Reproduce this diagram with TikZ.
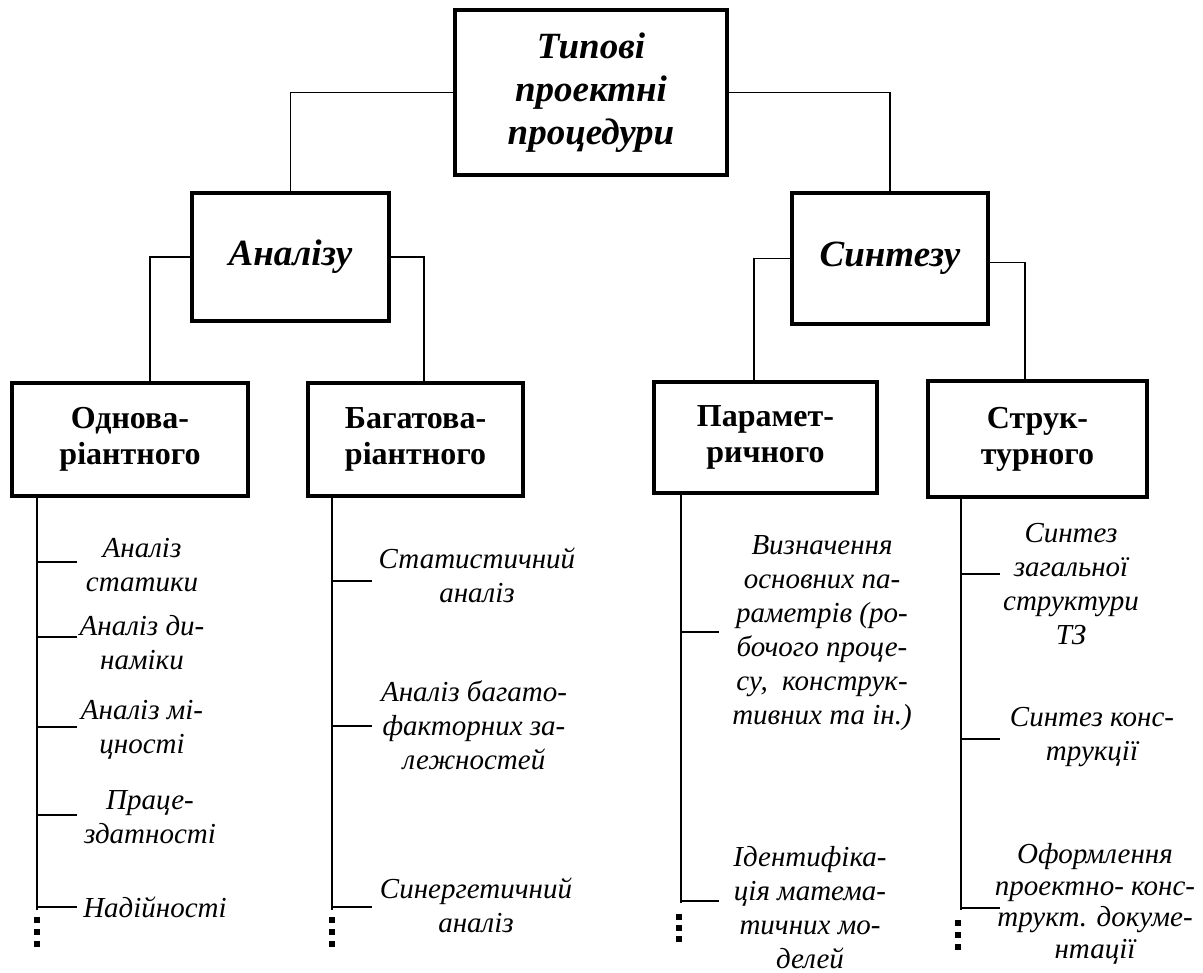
\documentclass[tikz,border=0pt]{standalone}
\usepackage{fontspec}
\setmainfont{Liberation Serif}
\begin{document}
\begin{tikzpicture}[x=1pt,y=-1pt,
  box/.style={draw, line width=3.5pt, inner sep=0pt, align=center},
  topfont/.style={font=\fontsize{37}{43}\selectfont\bfseries\itshape},
  midfont/.style={font=\fontsize{37}{42}\selectfont\bfseries\itshape},
  lowfont/.style={font=\fontsize{32}{36}\selectfont\bfseries},
  conn/.style={line width=1.3pt},
  stem/.style={line width=2pt},
  tickline/.style={line width=2pt},
  item/.style={align=center, inner sep=0pt, font=\fontsize{29}{34}\selectfont\itshape},
  dotsq/.style={fill=black, minimum size=5.5pt, inner sep=0pt, draw=none}
]
\useasboundingbox (0,0) rectangle (1203,973);

% boxes
\node[box, topfont, minimum width=272pt, minimum height=165pt] (top) at (591,92.5) {Типові\\проектні\\процедури};
\node[box, midfont, minimum width=197pt, minimum height=128pt] (an) at (290.5,257) {Аналізу};
\node[box, midfont, minimum width=196pt, minimum height=131pt] (syn) at (890,258.5) {Синтезу};
\node[box, lowfont, minimum width=236pt, minimum height=113pt] (odn) at (130,439.5) {Однова-\\ріантного};
\node[box, lowfont, minimum width=215pt, minimum height=113pt] (bag) at (415.5,439.5) {Багатова-\\ріантного};
\node[box, lowfont, minimum width=223pt, minimum height=111pt] (par) at (765.5,437.5) {Парамет-\\ричного};
\node[box, lowfont, minimum width=219pt, minimum height=116pt] (str) at (1037.5,439) {Струк-\\турного};

% connectors between levels
\draw[conn] (top.west) -| (an.north);
\draw[conn] (top.east) -| (syn.north);
\draw[conn] (an.west) -| ([xshift=20pt]odn.north);
\draw[conn] (an.east) -| ([xshift=8.5pt]bag.north);
\draw[conn] (syn.west) -| ([xshift=-11.5pt]par.north);
\draw[conn] ([yshift=-4pt]syn.east) -| ([xshift=-12.5pt]str.north);

% stems
\coordinate (s1) at (37,910);
\coordinate (s2) at (332,910);
\coordinate (s3) at (681,903);
\coordinate (s4) at (961,910);
\draw[stem] ([xshift=-93pt]odn.south) -- (s1);
\draw[stem] ([xshift=-83.5pt]bag.south) -- (s2);
\draw[stem] ([xshift=-84.5pt]par.south) -- (s3);
\draw[stem] ([xshift=-76.5pt]str.south) -- (s4);

% ticks
\foreach \y [count=\i] in {562,637,727,815,907}{
  \coordinate (ta\i) at (37,\y);
  \draw[tickline] (ta\i) -- ++(40,0);
}
\foreach \y [count=\i] in {581,726,907}{
  \coordinate (tb\i) at (332,\y);
  \draw[tickline] (tb\i) -- ++(40,0);
}
\foreach \y [count=\i] in {632,901}{
  \coordinate (tc\i) at (681,\y);
  \draw[tickline] (tc\i) -- ++(38,0);
}
\foreach \y [count=\i] in {574,739,908}{
  \coordinate (td\i) at (961,\y);
  \draw[tickline] (td\i) -- ++(39,0);
}

% dots
\foreach \y [count=\i] in {920,932,944}{
  \node[dotsq] (da\i) at (37,\y) {};
  \node[dotsq] (db\i) at (332,\y) {};
  \node[dotsq] (dd\i) at (958,\y+3) {};
}
\foreach \y [count=\i] in {917,928,939}{
  \node[dotsq] (dc\i) at (679,\y) {};
}

% items column 1
\node[item] (a1) at (142,565) {Аналіз\\статики};
\node[item] (a2) at (142,643) {Аналіз ди-\\наміки};
\node[item] (a3) at (142,730) {Аналіз мі-\\цності};
\node[item] (a4) at (150,817) {Праце-\\здатності};
\node[item] (a5) at (155,907) {Надійності};
% column 2
\node[item] (b1) at (477,575) {Статистичний\\аналіз};
\node[item] (b2) at (474,725) {Аналіз багато-\\факторних за-\\лежностей};
\node[item] (b3) at (476,905) {Синергетичний\\аналіз};
% column 3
\node[item] (c1) at (822,633) {Визначення\\основних па-\\раметрів (ро-\\бочого проце-\\су,\ \ конструк-\\тивних та ін.)};
\node[item] (c2) at (810,908) {Ідентифіка-\\ція матема-\\тичних мо-\\делей};
% column 4
\node[item] (d1) at (1071,584) {Синтез\\загальної\\структури\\ТЗ};
\node[item] (d2) at (1092,737) {Синтез конс-\\трукції};
\node[item, font=\fontsize{29}{31.5}\selectfont\itshape] (d3) at (1095,904) {Оформлення\\проектно- конс-\\трукт. докуме-\\нтації};
\end{tikzpicture}
\end{document}
